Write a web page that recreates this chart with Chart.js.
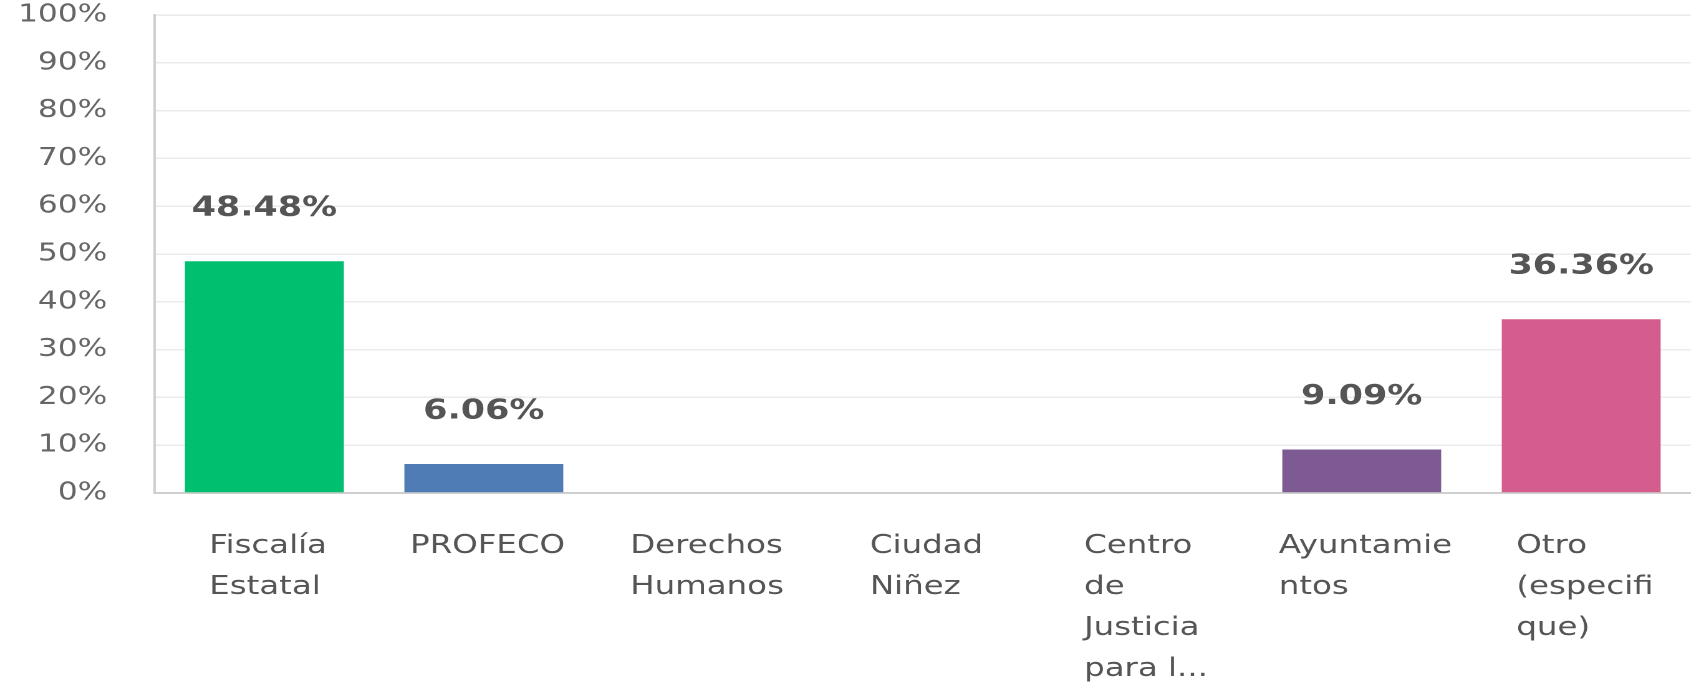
<!DOCTYPE html>
<html>
<head>
<meta charset="utf-8">
<script src="https://cdn.jsdelivr.net/npm/chart.js@4.4.1/dist/chart.umd.min.js"></script>
<style>
  html, body { margin: 0; padding: 0; background: #ffffff; overflow: hidden; width: 1691px; height: 684px; }
  #wrap { position: absolute; left: 0; top: 0; width: 1356px; height: 684px; transform: scaleX(1.247); transform-origin: 0 0; }
  canvas { display: block; }
</style>
</head>
<body>
<div id="wrap"><canvas id="c"></canvas></div>
<script>
const categories = [
  ["Fiscalía", "Estatal"],
  ["PROFECO"],
  ["Derechos", "Humanos"],
  ["Ciudad", "Niñez"],
  ["Centro", "de", "Justicia", "para l..."],
  ["Ayuntamie", "ntos"],
  ["Otro", "(especifi", "que)"]
];
const values = [48.48, 6.06, 0, 0, 0, 9.09, 36.36];
const valueLabels = ["48.48%", "6.06%", "", "", "", "9.09%", "36.36%"];
const barColors = ["#00BF6F", "#507CB6", "#F9BE00", "#6BC8CD", "#FF8B4F", "#7D5A91", "#D45D8E"];
const yTicks = [0, 10, 20, 30, 40, 50, 60, 70, 80, 90, 100];

const FONT = "'DejaVu Sans', sans-serif";

const labelPlugin = {
  id: 'labelPlugin',
  afterDraw(chart) {
    const ctx = chart.ctx;
    const xs = chart.scales.x;
    ctx.save();
    ctx.font = "26px " + FONT;
    ctx.fillStyle = "#555555";
    ctx.textBaseline = "middle";
    ctx.textAlign = "left";
    categories.forEach((lines, i) => {
      const cx = xs.getPixelForTick(i);
      const w = Math.max(...lines.map(l => ctx.measureText(l).width));
      const left = cx - w / 2 + 3;
      lines.forEach((l, j) => {
        ctx.fillText(l, left, xs.top + 53 + j * 41);
      });
    });
    const meta = chart.getDatasetMeta(0);
    ctx.font = "bold 28px " + FONT;
    ctx.fillStyle = "#555555";
    ctx.textAlign = "center";
    meta.data.forEach((bar, i) => {
      if (!valueLabels[i]) return;
      ctx.fillText(valueLabels[i], bar.x, bar.y - 53);
    });
    ctx.restore();
  }
};

new Chart(document.getElementById('c'), {
  type: 'bar',
  data: {
    labels: categories,
    datasets: [{
      data: values,
      backgroundColor: barColors,
      borderWidth: 0,
      barPercentage: 0.724,
      categoryPercentage: 1.0
    }]
  },
  options: {
    responsive: true,
    maintainAspectRatio: false,
    animation: false,
    devicePixelRatio: 2,
    layout: { padding: { top: 15, left: 0, right: 0, bottom: 0 } },
    plugins: { legend: { display: false }, tooltip: { enabled: false } },
    scales: {
      x: {
        ticks: { display: false },
        grid: { display: false, drawTicks: false },
        border: { display: true, color: '#cfcfcf', width: 2 },
        afterFit(scale) { scale.height = 191; scale.paddingLeft = 0; scale.paddingRight = 0; }
      },
      y: {
        min: 0,
        max: 100,
        afterBuildTicks(scale) { scale.ticks = yTicks.map(v => ({ value: v })); },
        ticks: {
          callback: v => v + '%',
          font: { family: FONT, size: 25 },
          color: '#666666',
          padding: 38
        },
        grid: { color: '#ebebeb', lineWidth: 1.5, drawTicks: false },
        border: { display: true, color: '#d0d0d0', width: 2 },
        afterFit(scale) { scale.width = 124; scale.paddingTop = 0; scale.paddingBottom = 0; }
      }
    }
  },
  plugins: [labelPlugin]
});
</script>
</body>
</html>
